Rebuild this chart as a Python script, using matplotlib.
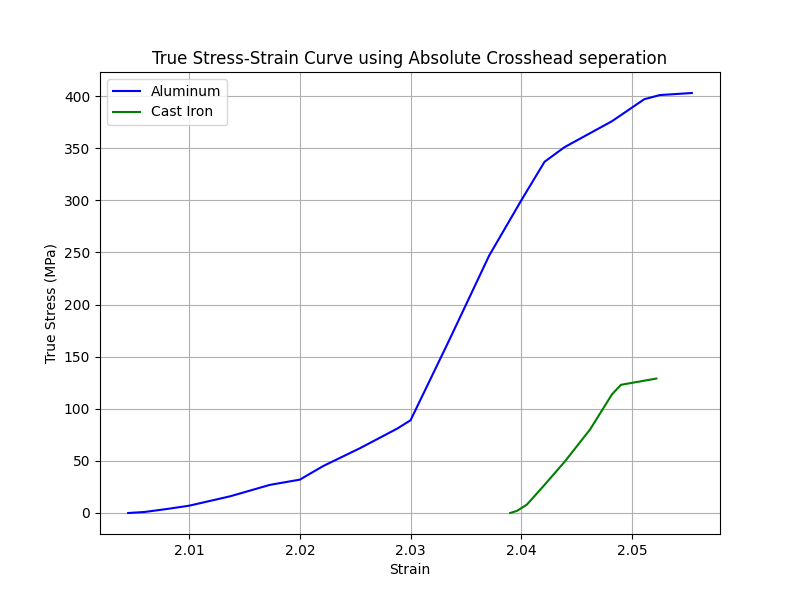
import matplotlib
matplotlib.use("Agg")
import matplotlib.pyplot as plt

al_strain = [2.0045, 2.0060, 2.0081, 2.0100, 2.0137, 2.0173, 2.0200, 2.0221, 2.0254, 2.0288, 2.0300,
             2.0335, 2.0371, 2.0400, 2.0421, 2.0439, 2.0482, 2.0511, 2.0525, 2.0554]
al_stress = [0, 1, 4, 7, 16, 27, 32, 45, 62, 81, 89, 166, 247, 300, 337, 351, 376, 397, 401, 403]

ci_strain = [2.0390, 2.0396, 2.0405, 2.0421, 2.0439, 2.0462, 2.0482, 2.0490, 2.0522]
ci_stress = [0, 2, 8, 27, 49, 80, 114, 123, 129]

fig, ax = plt.subplots(figsize=(8, 6), dpi=100)
ax.plot(al_strain, al_stress, color='blue', label='Aluminum')
ax.plot(ci_strain, ci_stress, color='green', label='Cast Iron')
ax.set_title('True Stress-Strain Curve using Absolute Crosshead seperation')
ax.set_xlabel('Strain')
ax.set_ylabel('True Stress (MPa)')
ax.grid(True)
ax.legend(loc='upper left')
fig.savefig('out.png')
